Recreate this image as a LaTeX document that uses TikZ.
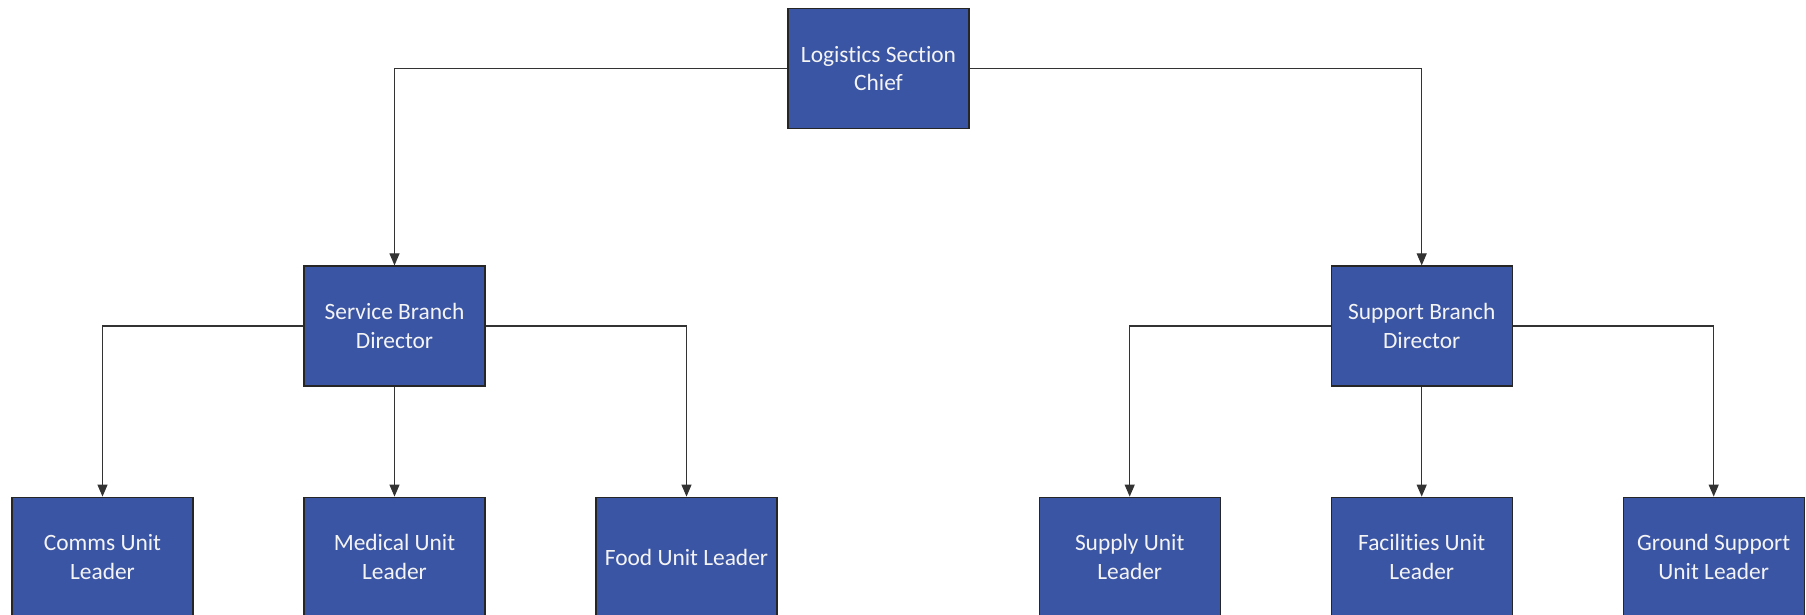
\documentclass[tikz,border=0pt]{standalone}
\usepackage{fontspec}
\setmainfont{Carlito}[Ligatures=NoCommon]
\usetikzlibrary{arrows.meta, positioning}
\definecolor{boxblue}{HTML}{3B55A5}
\definecolor{boxedge}{HTML}{262626}
\definecolor{boxtext}{HTML}{F4F4F4}
\definecolor{linegray}{HTML}{333333}

\begin{document}
\begin{tikzpicture}[
      role/.style={draw=boxedge, line width=0.6pt, fill=boxblue, text=boxtext,
                   minimum width=90.5pt, minimum height=60pt, inner sep=2pt,
                   align=center, font=\fontsize{11.7pt}{14.3pt}\selectfont},
      conn/.style={-{Triangle[length=6pt, width=5pt]}, line width=0.55pt, draw=linegray}
    ]
    \useasboundingbox (0,0) rectangle (903pt,-307.5pt);
    % section chief and the two branches
    \node[role] (chief) at (439.25pt,-34.25pt) {Logistics Section\\Chief};
    \node[role] (service) at (197.25pt,-163pt) {Service Branch\\Director};
    \node[role, right=422.5pt of service] (support) {Support Branch\\Director};
    % service branch units
    \node[role, below=55pt of service] (medical) {Medical Unit\\Leader};
    \node[role, left=54.9pt of medical] (comms) {Comms Unit\\Leader};
    \node[role, right=54.9pt of medical] (food) {Food Unit Leader};
    % support branch units
    \node[role, below=55pt of support] (facilities) {Facilities Unit\\Leader};
    \node[role, left=54.9pt of facilities] (supply) {Supply Unit\\Leader};
    \node[role, right=54.9pt of facilities] (ground) {Ground Support\\Unit Leader};
    \draw[conn] (chief.west) -| (service.north);
    \draw[conn] (chief.east) -| (support.north);
    \draw[conn] (service.west) -| (comms.north);
    \draw[conn] (service.south) -- (medical.north);
    \draw[conn] (service.east) -| (food.north);
    \draw[conn] (support.west) -| (supply.north);
    \draw[conn] (support.south) -- (facilities.north);
    \draw[conn] (support.east) -| (ground.north);
  \end{tikzpicture}
\end{document}
